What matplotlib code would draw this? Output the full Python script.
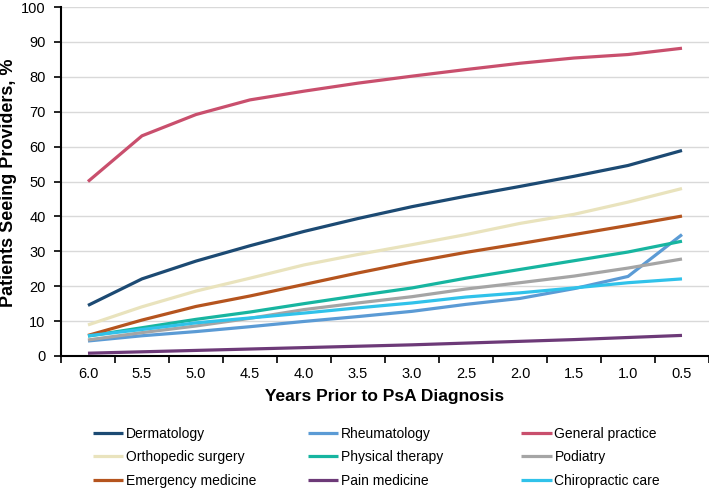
import numpy as np
from matplotlib import pyplot as plt

plt.rcParams['font.family'] = ['Liberation Sans', 'DejaVu Sans']

years = ['6.0', '5.5', '5.0', '4.5', '4.0', '3.5', '3.0', '2.5', '2.0', '1.5', '1.0', '0.5']

dermatology = [14.5, 22.1, 27.2, 31.6, 35.7, 39.4, 42.8, 45.8, 48.6, 51.5, 54.6, 58.9]
rheumatology = [4.3, 5.8, 7.0, 8.4, 9.9, 11.3, 12.8, 14.8, 16.5, 19.3, 22.8, 34.8]
general_practice = [50.0, 63.1, 69.2, 73.4, 75.9, 78.2, 80.2, 82.1, 83.9, 85.4, 86.4, 88.2]
orthopedic = [8.9, 14.1, 18.6, 22.3, 26.1, 29.1, 31.9, 34.8, 38.0, 40.6, 44.1, 48.0]
physical_therapy = [5.7, 8.1, 10.5, 12.6, 15.0, 17.3, 19.5, 22.3, 24.8, 27.3, 29.8, 32.9]
podiatry = [4.6, 6.7, 8.6, 10.8, 13.3, 15.2, 17.0, 19.2, 21.0, 22.9, 25.2, 27.8]
emergency = [5.9, 10.3, 14.2, 17.2, 20.5, 23.8, 26.9, 29.7, 32.2, 34.8, 37.4, 40.1]
pain_medicine = [0.8, 1.2, 1.6, 2.0, 2.4, 2.8, 3.2, 3.7, 4.2, 4.7, 5.3, 5.9]
chiropractic = [5.8, 7.6, 9.5, 10.9, 12.3, 13.8, 15.2, 16.9, 18.1, 19.5, 21.0, 22.1]

series = [
    ('Dermatology', dermatology, '#1c4a73'),
    ('Rheumatology', rheumatology, '#5b9bd5'),
    ('General practice', general_practice, '#c94f6d'),
    ('Orthopedic surgery', orthopedic, '#e9e3bd'),
    ('Physical therapy', physical_therapy, '#17b5a0'),
    ('Podiatry', podiatry, '#a5a5a5'),
    ('Emergency medicine', emergency, '#b5541e'),
    ('Pain medicine', pain_medicine, '#6d3a78'),
    ('Chiropractic care', chiropractic, '#30c2ea'),
]

fig = plt.figure(figsize=(7.09, 4.88), dpi=100)
ax = fig.add_axes([0.086, 0.2705, 0.914, 0.715])

x = np.arange(len(years))
handles = {}
for name, vals, color in series:
    line, = ax.plot(x, vals, color=color, lw=2.3, label=name, solid_capstyle='butt')
    handles[name] = line

ax.set_xlim(-0.5, len(years) - 0.5)
ax.set_ylim(0, 100)
ax.set_yticks(np.arange(0, 101, 10))
ax.set_xticks(x)
ax.set_xticklabels(years)
ax.set_xticks(np.arange(-0.5, len(years)), minor=True)
ax.tick_params(axis='x', which='major', length=0, pad=8, labelsize=10.5)
ax.tick_params(axis='x', which='minor', length=5, width=1.2, direction='out')
ax.tick_params(axis='y', length=5, width=1.2, pad=6, labelsize=10.5)
ax.yaxis.grid(True, color='#d9d9d9', lw=1.0)
ax.set_axisbelow(True)
for s in ['top', 'right']:
    ax.spines[s].set_visible(False)
for s in ['left', 'bottom']:
    ax.spines[s].set_linewidth(1.5)

ax.set_ylabel('Patients Seeing Providers, %', fontsize=13, fontweight='bold')
ax.yaxis.set_label_coords(-0.068, 0.497)
ax.set_xlabel('Years Prior to PsA Diagnosis', fontsize=12.5, fontweight='bold', labelpad=6)

# one legend per column, rows read left to right like the reference
columns = [['Dermatology', 'Orthopedic surgery', 'Emergency medicine'],
           ['Rheumatology', 'Physical therapy', 'Pain medicine'],
           ['General practice', 'Podiatry', 'Chiropractic care']]
col_x = [0.131, 0.434, 0.735]
for names, cx in zip(columns, col_x):
    leg = fig.legend([handles[n] for n in names], names, loc='upper left',
                     bbox_to_anchor=(cx, 0.126), frameon=False, fontsize=10,
                     handlelength=2.2, handletextpad=0.2, labelspacing=0.7,
                     borderaxespad=0, borderpad=0)

plt.savefig('out.png')
